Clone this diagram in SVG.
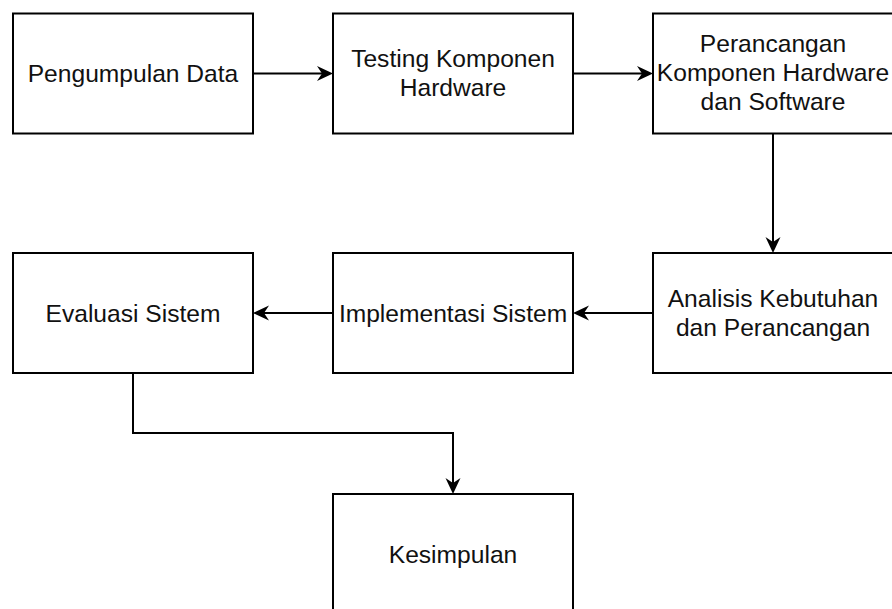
<svg xmlns="http://www.w3.org/2000/svg" width="892" height="609" viewBox="0 0 892 609">
<style>
.box{fill:#fff;stroke:#000;stroke-width:2}
.lbl{font-family:"Liberation Sans",Arial,Helvetica,sans-serif;font-size:24.6px;fill:#111;text-anchor:middle}
.edge{fill:none;stroke:#000;stroke-width:2}
</style>
<defs>
<marker id="arr" viewBox="0 0 20 16" refX="11" refY="8" markerWidth="20" markerHeight="16" markerUnits="userSpaceOnUse" orient="auto">
<path d="M17,8 L1,0.5 L6,8 L1,15.5 Z" fill="#000"/>
</marker>
</defs>
<rect width="892" height="609" fill="#fff"/>
<g id="n1"><rect class="box" x="13" y="13.5" width="240" height="120"/><text class="lbl" x="133" y="82">Pengumpulan Data</text></g>
<g id="n2"><rect class="box" x="333" y="13.5" width="240" height="120"/><text class="lbl" x="453" y="66.5">Testing Komponen</text><text class="lbl" x="453" y="95.5">Hardware</text></g>
<g id="n3"><rect class="box" x="653" y="13.5" width="240" height="120"/><text class="lbl" x="773" y="52">Perancangan</text><text class="lbl" x="773" y="81">Komponen Hardware</text><text class="lbl" x="773" y="110">dan Software</text></g>
<g id="n4"><rect class="box" x="653" y="253" width="240" height="120"/><text class="lbl" x="773" y="306.5">Analisis Kebutuhan</text><text class="lbl" x="773" y="335.5">dan Perancangan</text></g>
<g id="n5"><rect class="box" x="333" y="253" width="240" height="120"/><text class="lbl" x="453" y="322">Implementasi Sistem</text></g>
<g id="n6"><rect class="box" x="13" y="253" width="240" height="120"/><text class="lbl" x="133" y="322">Evaluasi Sistem</text></g>
<g id="n7"><rect class="box" x="333" y="494" width="240" height="120"/><text class="lbl" x="453" y="563">Kesimpulan</text></g>
<g id="edges">
<path class="edge" d="M253,73.5 L327,73.5" marker-end="url(#arr)"/>
<path class="edge" d="M573,73.5 L647,73.5" marker-end="url(#arr)"/>
<path class="edge" d="M773,133.5 L773,247" marker-end="url(#arr)"/>
<path class="edge" d="M653,313 L579,313" marker-end="url(#arr)"/>
<path class="edge" d="M333,313 L259,313" marker-end="url(#arr)"/>
<path class="edge" d="M133,373 L133,433 L453,433 L453,488" marker-end="url(#arr)"/>
</g>
</svg>
